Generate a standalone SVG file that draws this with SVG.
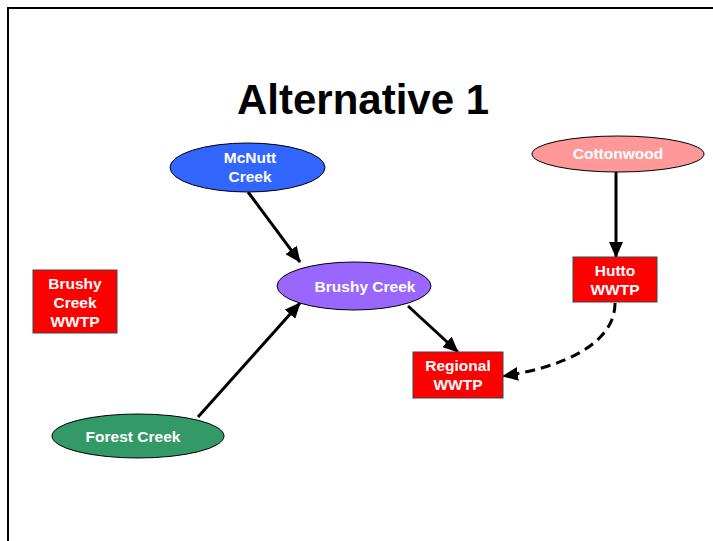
<svg xmlns="http://www.w3.org/2000/svg" width="713" height="541" viewBox="0 0 713 541">
<defs>
<marker id="ah" markerWidth="16" markerHeight="14" refX="15" refY="7" orient="auto" markerUnits="userSpaceOnUse" viewBox="0 0 16 14">
<path d="M0,0 L16,7 L0,14 z" fill="#000"/>
</marker>
<style>
.lbl{font-family:"Liberation Sans",Arial,sans-serif;font-weight:bold;font-size:15.5px;fill:#fff;text-anchor:middle}
.box{fill:#FF0000;stroke:#444;stroke-width:1}
.ell{stroke:#000;stroke-width:1}
.con{stroke:#000;stroke-width:3;fill:none;marker-end:url(#ah)}
</style>
</defs>
<rect width="713" height="541" fill="#fff"/>
<path d="M8,541 L8,8 L713,8" fill="none" stroke="#000" stroke-width="2"/>
<text x="363" y="114" font-family="Liberation Sans,Arial,sans-serif" font-weight="bold" font-size="42" text-anchor="middle" fill="#000">Alternative 1</text>
<g id="connectors">
<line class="con" x1="248" y1="192" x2="300" y2="262"/>
<line class="con" x1="198" y1="417" x2="300" y2="303"/>
<line class="con" x1="408" y1="306" x2="458" y2="352"/>
<line class="con" x1="616" y1="172" x2="616" y2="257"/>
<path class="con" d="M615,303 C615,345 560,368 503,376" stroke-dasharray="10,6"/>
</g>
<g id="mcnutt">
<ellipse class="ell" cx="247.5" cy="167.5" rx="77.5" ry="24.5" fill="#3366FF"/>
<text class="lbl" x="250" y="163">McNutt</text>
<text class="lbl" x="250" y="182">Creek</text>
</g>
<g id="cottonwood">
<ellipse class="ell" cx="618" cy="154" rx="86" ry="18" fill="#FF9999"/>
<text class="lbl" x="618" y="159">Cottonwood</text>
</g>
<g id="brushycreek">
<ellipse class="ell" cx="354" cy="286" rx="77" ry="24" fill="#9966FF"/>
<text class="lbl" x="365" y="292">Brushy Creek</text>
</g>
<g id="forestcreek">
<ellipse class="ell" cx="138" cy="436" rx="86" ry="22" fill="#339966"/>
<text class="lbl" x="133" y="442">Forest Creek</text>
</g>
<g id="brushywwtp">
<rect class="box" x="33" y="270" width="84" height="63"/>
<text class="lbl" x="75" y="289">Brushy</text>
<text class="lbl" x="75" y="308">Creek</text>
<text class="lbl" x="75" y="327">WWTP</text>
</g>
<g id="hutto">
<rect class="box" x="573" y="257" width="84" height="45"/>
<text class="lbl" x="615" y="276">Hutto</text>
<text class="lbl" x="615" y="295">WWTP</text>
</g>
<g id="regional">
<rect class="box" x="413" y="352" width="90" height="46"/>
<text class="lbl" x="458" y="371">Regional</text>
<text class="lbl" x="458" y="390">WWTP</text>
</g>
</svg>
